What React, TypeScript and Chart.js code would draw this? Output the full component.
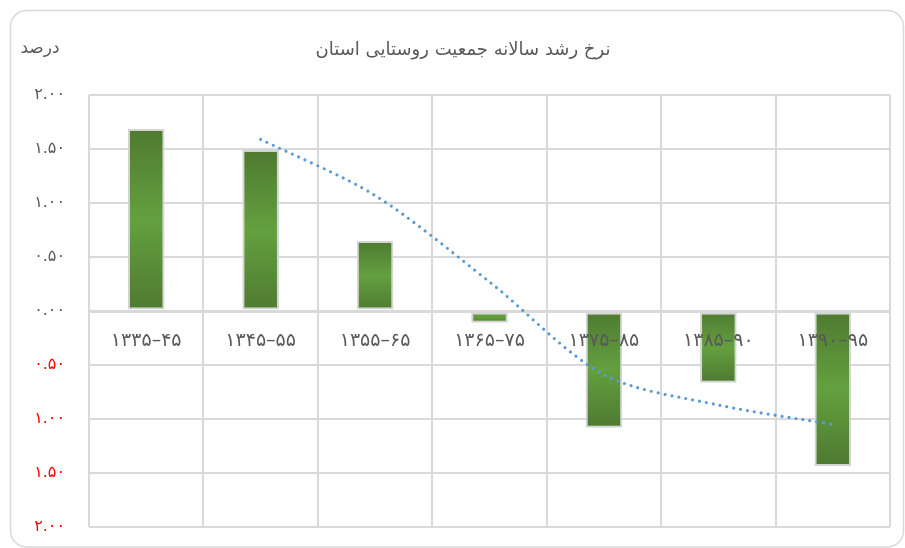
import React, { useEffect, useRef } from "react";
import { Chart, registerables } from "chart.js";

Chart.register(...registerables);

const categories = ["۱۳۳۵–۴۵", "۱۳۴۵–۵۵", "۱۳۵۵–۶۵", "۱۳۶۵–۷۵", "۱۳۷۵–۸۵", "۱۳۸۵–۹۰", "۱۳۹۰–۹۵"];
const growthRates = [1.685, 1.49, 0.648, -0.108, -1.08, -0.664, -1.435];
const trendValues = [null, 1.59, 1.07, 0.27, -0.59, -0.87, -1.05];
const yMin = -2;
const yMax = 2;
const yStep = 0.5;
const chartTitle = "نرخ رشد سالانه جمعیت روستایی استان";
const yAxisTitle = "درصد";

const FA_DIGITS = "۰۱۲۳۴۵۶۷۸۹";
const toFa = (s: string) => s.replace(/\d/g, (d) => FA_DIGITS[Number(d)]);

const FONT = "'DejaVu Sans', 'Noto Sans', sans-serif";

const framePlugin = {
  id: "frame",
  beforeDraw(chart: any) {
    const c = chart.ctx;
    c.save();
    c.fillStyle = "#ffffff";
    c.fillRect(0, 0, chart.width, chart.height);
    c.strokeStyle = "#D9D9D9";
    c.lineWidth = 1.5;
    c.beginPath();
    (c as any).roundRect(10.5, 10.5, chart.width - 12, chart.height - 11.5, 16);
    c.stroke();
    c.restore();
  },
  afterDraw(chart: any) {
    const c = chart.ctx;
    const area = chart.chartArea;
    c.save();
    c.fillStyle = "#595959";
    c.textBaseline = "middle";
    c.textAlign = "center";
    c.font = `18px ${FONT}`;
    c.fillText(chartTitle, 463, area.top - 45);
    c.font = `17px ${FONT}`;
    c.fillText(yAxisTitle, 40, area.top - 46);
    c.restore();
  },
};

export default function App() {
  const ref = useRef<HTMLCanvasElement | null>(null);

  useEffect(() => {
    document.body.style.margin = "0";
    const canvas = ref.current!;
    const chart = new Chart(canvas, {
      type: "bar",
      data: {
        labels: categories,
        datasets: [
          {
            type: "line",
            label: "trend",
            data: trendValues as any,
            borderColor: "#5B9BD5",
            borderWidth: 3.2,
            borderDash: [0, 7],
            borderCapStyle: "round",
            pointRadius: 0,
            tension: 0.3,
            fill: false,
            order: 0,
          } as any,
          {
            type: "bar",
            label: "rate",
            data: growthRates,
            order: 1,
            barPercentage: 0.32,
            categoryPercentage: 1,
            borderColor: "#D4D4D4",
            borderWidth: 2,
            borderSkipped: false,
            backgroundColor: (ctx: any) => {
              const ch = ctx.chart;
              if (!ch.chartArea || ctx.type !== "data" || !ch.scales.y) return "#5A8F38";
              const y = ch.scales.y;
              const v = ctx.raw as number;
              const p0 = y.getPixelForValue(0);
              const p1 = y.getPixelForValue(v);
              const top = Math.min(p0, p1);
              const bot = Math.max(p0, p1) + 0.01;
              const g = ch.ctx.createLinearGradient(0, top, 0, bot);
              g.addColorStop(0, "#4E7A30");
              g.addColorStop(0.5, "#64A03F");
              g.addColorStop(1, "#4E7A30");
              return g;
            },
          } as any,
        ],
      },
      options: {
        animation: false,
        responsive: false,
        layout: { padding: { left: 10, right: 15, top: 95, bottom: 21 } },
        plugins: {
          legend: { display: false },
          tooltip: { enabled: false },
          title: { display: false },
        },
        scales: {
          x: {
            position: { y: 0 } as any,
            offset: true,
            afterFit: (scale: any) => {
              scale.height = 0;
            },
            grid: {
              offset: true,
              color: "#D9D9D9",
              lineWidth: 2,
              drawTicks: false,
            },
            border: { display: false },
            ticks: {
              z: 1,
              color: "#595959",
              font: { family: FONT, size: 19 },
              padding: 19,
              maxRotation: 0,
              autoSkip: false,
            } as any,
          },
          y: {
            min: yMin,
            max: yMax,
            afterFit: (scale: any) => {
              scale.width = 79;
              scale.paddingTop = 0;
              scale.paddingBottom = 0;
            },
            grid: {
              color: "#D9D9D9",
              lineWidth: (ctx: any) => (ctx.tick && ctx.tick.value === 0 ? 3 : 2),
              drawTicks: false,
            },
            border: { display: false },
            ticks: {
              stepSize: yStep,
              padding: 24,
              font: { family: FONT, size: 16 },
              color: (ctx: any) => (ctx.tick && ctx.tick.value < 0 ? "#FF0000" : "#595959"),
              callback: (value: any) => toFa(Math.abs(Number(value)).toFixed(2)),
            },
          },
        },
      },
      plugins: [framePlugin],
    });
    return () => chart.destroy();
  }, []);

  return (
    <div style={{ width: 905, height: 548 }}>
      <canvas ref={ref} width={905} height={548} style={{ display: "block" }} />
    </div>
  );
}
